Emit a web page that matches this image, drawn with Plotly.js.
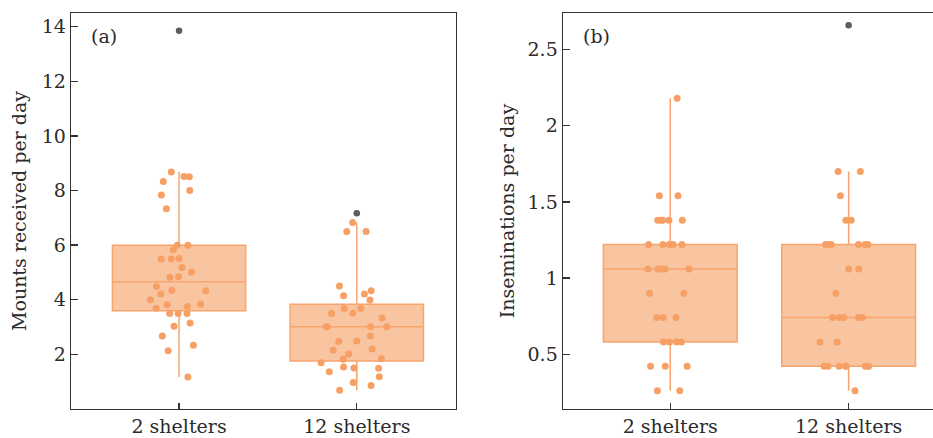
<!DOCTYPE html>
<html>
<head>
<meta charset="utf-8">
<script src="https://cdn.plot.ly/plotly-3.0.1.min.js"></script>
<style>
  html, body { margin: 0; padding: 0; background: #ffffff; }
  #chart { width: 933px; height: 438px; }
</style>
</head>
<body>
<div id="chart"></div>
<script>
// ---- data ----
var categories = ['2 shelters', '12 shelters'];

// Panel (a): mounts received per day
var mounts2 = [8.51, 8.68, 8.33, 8.50, 7.84, 8.00, 7.33, 6.00, 6.00, 5.83, 5.49, 5.51, 5.49, 5.18,
               5.01, 4.84, 4.82, 4.49, 4.35, 4.33, 4.21, 4.00, 3.84, 3.82, 3.75, 3.69, 3.50, 3.50,
               3.50, 3.15, 3.03, 2.67, 2.33, 2.13, 1.17];
var mounts2Outliers = [13.85];
var mounts12 = [6.83, 6.50, 6.50, 4.50, 4.33, 4.21, 4.15, 3.99, 3.68, 3.68, 3.51, 3.50, 3.33, 3.01,
                3.01, 3.01, 3.01, 2.67, 2.49, 2.47, 2.20, 2.15, 2.01, 1.84, 1.82, 1.69, 1.54, 1.50,
                1.49, 1.36, 1.18, 0.97, 0.86, 0.69];
var mounts12Outliers = [7.17];

// Panel (b): inseminations per day
var insem2 = [2.18, 1.54, 1.54, 1.38, 1.38, 1.38, 1.38, 1.38, 1.22, 1.22, 1.22, 1.22, 1.22, 1.22,
              1.06, 1.06, 1.06, 1.06, 1.06, 0.90, 0.90, 0.74, 0.74, 0.74, 0.58, 0.58, 0.58, 0.58,
              0.42, 0.42, 0.42, 0.26, 0.26];
var insem2Outliers = [];
var insem12 = [1.70, 1.70, 1.54, 1.38, 1.38, 1.22, 1.22, 1.22, 1.22, 1.22, 1.22, 1.06, 1.06, 0.90,
               0.74, 0.74, 0.74, 0.74, 0.74, 0.58, 0.58, 0.42, 0.42, 0.42, 0.42, 0.42, 0.42, 0.42,
               0.42, 0.26];
var insem12Outliers = [2.66];

var yTicksA = [2, 4, 6, 8, 10, 12, 14];
var yTicksB = [0.5, 1, 1.5, 2, 2.5];
var yTickTextB = ['0.5', '1', '1.5', '2', '2.5'];

// ---- styles ----
var FONT = 'DejaVu Serif, Liberation Serif, serif';
var TXT = '#2b2b2b';
var FILL = '#f9c4a0';
var LINE = '#f8a46d';
var PT = '#f7a066';
var OUT = '#5e5e5e';
var AX = '#333333';

function labels(arr, cat) { return arr.map(function () { return cat; }); }

function panelTraces(g1, g1o, g2, g2o, xa, ya) {
  var all1 = g1.concat(g1o), all2 = g2.concat(g2o);
  var boxTrace = {
    type: 'box', xaxis: xa, yaxis: ya,
    x: labels(all1, categories[0]).concat(labels(all2, categories[1])),
    y: all1.concat(all2),
    quartilemethod: 'inclusive',
    boxpoints: 'outliers', jitter: 0, pointpos: 0,
    whiskerwidth: 0,
    fillcolor: FILL,
    line: { color: LINE, width: 1.5 },
    marker: { color: OUT, size: 6.5, line: { width: 0 } },
    hoverinfo: 'skip', showlegend: false
  };
  var ptsTrace = {
    type: 'box', xaxis: xa, yaxis: ya,
    x: labels(g1, categories[0]).concat(labels(g2, categories[1])),
    y: g1.concat(g2),
    boxpoints: 'all', jitter: 0.55, pointpos: 0,
    whiskerwidth: 0,
    fillcolor: 'rgba(0,0,0,0)',
    line: { color: 'rgba(0,0,0,0)', width: 0 },
    marker: { color: PT, size: 7, line: { width: 0 } },
    hoverinfo: 'skip', showlegend: false
  };
  return [boxTrace, ptsTrace];
}

var data = panelTraces(mounts2, mounts2Outliers, mounts12, mounts12Outliers, 'x', 'y')
  .concat(panelTraces(insem2, insem2Outliers, insem12, insem12Outliers, 'x2', 'y2'));

function xAxis(domain, range, anchor) {
  return {
    domain: domain, range: range, anchor: anchor, type: 'category',
    showline: true, mirror: true, linecolor: AX, linewidth: 1.3,
    ticks: 'inside', ticklen: 6, tickwidth: 1.3, tickcolor: AX,
    showgrid: false, zeroline: false, fixedrange: true,
    tickfont: { family: FONT, size: 19, color: TXT }
  };
}
function yAxis(range, anchor, tv, tt, title, standoff) {
  var a = {
    range: range, anchor: anchor,
    tickmode: 'array', tickvals: tv,
    showline: true, mirror: true, linecolor: AX, linewidth: 1.3,
    ticks: 'inside', ticklen: 7, tickwidth: 1.3, tickcolor: AX,
    showgrid: false, zeroline: false, fixedrange: true,
    tickfont: { family: FONT, size: 19, color: TXT },
    title: { text: title, standoff: standoff, font: { family: FONT, size: 19, color: TXT } }
  };
  if (tt) a.ticktext = tt;
  return a;
}

var layout = {
  width: 933, height: 438,
  margin: { l: 71, r: 0, t: 13, b: 29 },
  paper_bgcolor: '#ffffff', plot_bgcolor: '#ffffff',
  boxmode: 'overlay', boxgap: 0.25, boxgroupgap: 0,
  showlegend: false,
  xaxis: xAxis([0, 0.4464], [-0.608, 1.557], 'y'),
  yaxis: yAxis([0, 14.5], 'x', yTicksA, null, 'Mounts received per day', 10),
  xaxis2: xAxis([0.5706, 1], [-0.602, 1.473], 'y2'),
  yaxis2: yAxis([0.14, 2.74], 'x2', yTicksB, yTickTextB, 'Inseminations per day', 8),
  annotations: [
    { text: '(a)', xref: 'x domain', yref: 'y domain', x: 0.046, y: 0.941,
      xanchor: 'left', yanchor: 'middle', showarrow: false,
      font: { family: FONT, size: 19, color: TXT } },
    { text: '(b)', xref: 'x2 domain', yref: 'y2 domain', x: 0.05, y: 0.941,
      xanchor: 'left', yanchor: 'middle', showarrow: false,
      font: { family: FONT, size: 19, color: TXT } }
  ]
};

Plotly.newPlot('chart', data, layout, { displayModeBar: false, staticPlot: true });
</script>
</body>
</html>
